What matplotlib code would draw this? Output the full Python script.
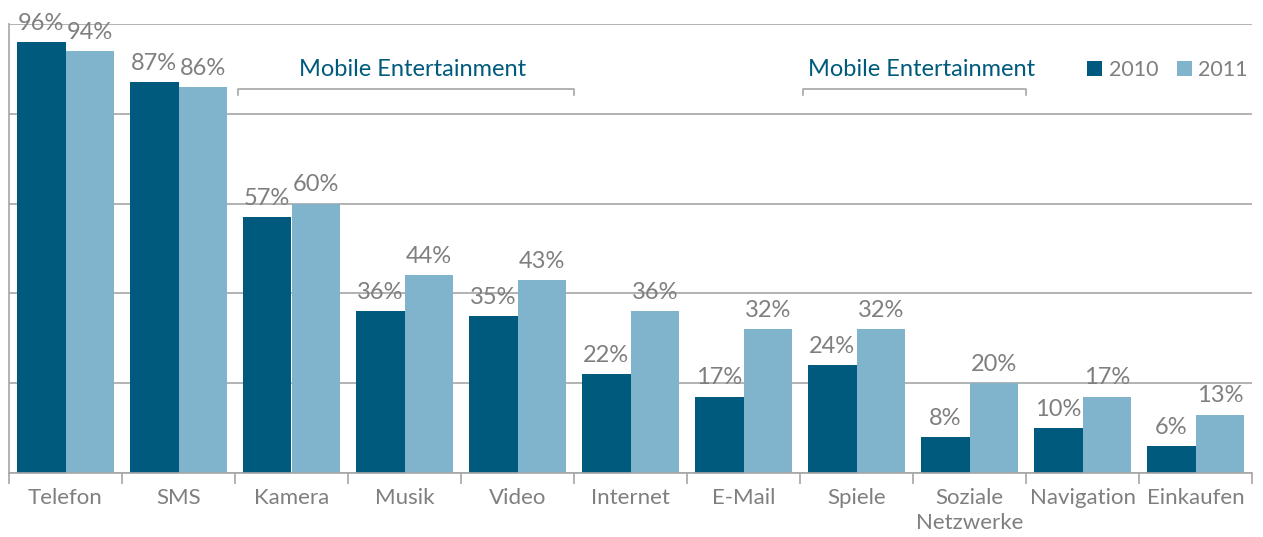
import matplotlib
matplotlib.use('Agg')
from matplotlib import pyplot as plt
import numpy as np

matplotlib.rcParams['font.family'] = ['Lato', 'DejaVu Sans']

categories = ['Telefon', 'SMS', 'Kamera', 'Musik', 'Video', 'Internet',
              'E-Mail', 'Spiele', 'Soziale\nNetzwerke', 'Navigation', 'Einkaufen']
values_2010 = [96, 87, 57, 36, 35, 22, 17, 24, 8, 10, 6]
values_2011 = [94, 86, 60, 44, 43, 36, 32, 32, 20, 17, 13]
series_labels = ['2010', '2011']
group_title = 'Mobile Entertainment'
groups = [(2, 4), (7, 8)]  # first and last category index of each bracket

dark_blue = '#005a7d'
light_blue = '#80b3cc'
text_grey = '#7f7f7f'
line_grey = '#a6a6a6'

fig = plt.figure(figsize=(12.63, 5.37), dpi=100)
ax = fig.add_axes([9 / 1263, 1 - 473 / 537, 1243 / 1263, 449 / 537])

x = np.arange(len(categories))
bar_w = 0.43
bars_a = ax.bar(x - bar_w / 2, values_2010, width=bar_w, color=dark_blue, zorder=2)
bars_b = ax.bar(x + bar_w / 2, values_2011, width=bar_w, color=light_blue, zorder=2)

for bars in (bars_a, bars_b):
    for bar in bars:
        h = bar.get_height()
        ax.annotate(f'{h:.0f}%', (bar.get_x() + bar.get_width() / 2, h),
                    xytext=(0, 6), textcoords='offset points',
                    ha='center', va='bottom', fontsize=17, color=text_grey, zorder=3)

ax.set_xlim(-0.5, len(categories) - 0.5)
ax.set_ylim(0, 100)
ax.set_yticks([0, 20, 40, 60, 80, 100])
ax.yaxis.grid(True, color=line_grey, linewidth=1.2, zorder=0)
ax.tick_params(axis='y', left=False, labelleft=False)

# category labels centred, tick marks on the boundaries
ax.set_xticks(x)
ax.set_xticklabels(categories, fontsize=16, color=text_grey, linespacing=1.3)
ax.tick_params(axis='x', length=0, pad=11)
ax.set_xticks(np.arange(len(categories) + 1) - 0.5, minor=True)
ax.tick_params(axis='x', which='minor', length=8, color=line_grey, width=1.2, direction='out')

for side in ('top', 'right'):
    ax.spines[side].set_visible(False)
ax.spines['bottom'].set_color(line_grey)
ax.spines['bottom'].set_linewidth(1.2)
ax.spines['left'].set_color(line_grey)
ax.spines['left'].set_linewidth(1.2)

# brackets over the entertainment categories
for first, last in groups:
    x0, x1 = first - 0.47, last + 0.5
    y0 = 85.5
    ax.plot([x0, x0, x1, x1], [y0 - 1.4, y0, y0, y0 - 1.4],
            color=line_grey, linewidth=1.2, zorder=3, clip_on=False)
    ax.text((x0 + x1) / 2 + 0.06, y0 + 2.0, group_title, ha='center', va='bottom',
            fontsize=17, color=dark_blue)

leg = ax.legend([bars_a, bars_b], series_labels, loc='upper right',
                bbox_to_anchor=(1.012, 0.962), ncol=2, frameon=False, fontsize=15.5,
                handlelength=0.7, handleheight=0.7, handletextpad=0.3,
                columnspacing=0.85, labelcolor=text_grey)

fig.savefig('out.png', dpi=100)
